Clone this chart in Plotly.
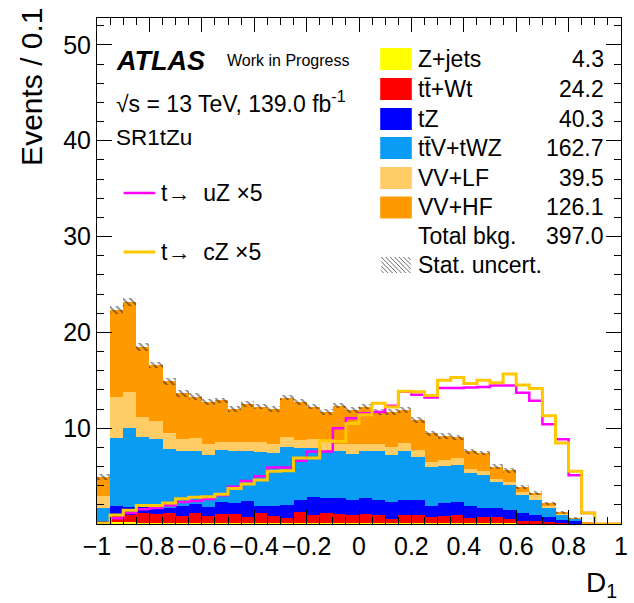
import numpy as np
import plotly.graph_objects as go

# ---------------- data ----------------
bin_edges = np.linspace(-1.0, 1.0, 41)
x_tick_vals = [-1, -0.8, -0.6, -0.4, -0.2, 0, 0.2, 0.4, 0.6, 0.8, 1]
x_tick_text = ["\u22121", "\u22120.8", "\u22120.6", "\u22120.4", "\u22120.2", "0", "0.2", "0.4", "0.6", "0.8", "1"]
y_tick_vals = [10, 20, 30, 40, 50]

zjets = [0.02, 0.25, 0.2, 0.15, 0.12, 0.1, 0.12, 0.15, 0.1, 0.12,
         0.12, 0.1, 0.15, 0.12, 0.1, 0.1, 0.12, 0.1, 0.15, 0.1,
         0.12, 0.1, 0.1, 0.12, 0.1, 0.1, 0.12, 0.1, 0.08, 0.1,
         0.08, 0.06, 0.05, 0.04, 0.03, 0.02, 0.01, 0, 0, 0]
ttbar = [0.08, 0.75, 0.7, 0.95, 0.88, 1.1, 0.75, 1.05, 0.7, 0.88,
         0.92, 0.67, 0.99, 0.68, 0.53, 1.15, 0.86, 1.04, 0.93, 0.88,
         0.92, 0.8, 0.46, 0.85, 0.87, 0.63, 0.73, 0.8, 0.57, 0.6,
         0.62, 0.44, 0.3, 0.26, 0.17, 0.08, 0.04, 0, 0, 0]
tz = [0.2, 0.9, 0.84, 0.7, 0.67, 0.47, 1.03, 0.87, 0.98, 1.3,
      1.16, 1.63, 0.76, 1.1, 1.37, 1.25, 1.79, 1.56, 1.62, 1.52,
      1.66, 1.6, 1.74, 1.53, 1.58, 1.12, 1.3, 1.4, 1.25, 1.0,
      0.95, 1.0, 0.8, 0.67, 0.5, 0.35, 0.25, 0.02, 0, 0]
ttv = [1.37, 7.06, 8.26, 7.26, 7.18, 6.18, 5.77, 5.5, 5.42, 5.4,
       5.37, 5.17, 5.6, 5.5, 6.0, 5.4, 5.13, 4.87, 4.87, 4.8,
       4.94, 5.07, 4.9, 5.14, 4.45, 4.15, 3.9, 3.9, 3.4, 3.4,
       2.75, 2.6, 1.85, 1.53, 1.0, 0.52, 0.25, 0.08, 0, 0]
vvlf = [1.23, 4.34, 3.75, 2.14, 1.91, 1.65, 1.23, 1.39, 1.17, 0.9,
        1.03, 1.03, 1.1, 1.0, 1.1, 0.85, 1.0, 1.18, 0.78, 1.0,
        0.76, 0.78, 0.8, 0.81, 0.75, 0.5, 0.65, 0.7, 0.46, 0.4,
        0.3, 0.3, 0.3, 0.55, 0.27, 0.08, 0, 0, 0, 0]
vvhf = [2.0, 9.0, 9.45, 7.3, 5.84, 5.4, 4.75, 4.34, 4.33, 4.3,
        3.38, 3.9, 3.66, 3.58, 4.1, 3.95, 3.36, 2.95, 4.01, 3.6,
        3.86, 3.35, 3.7, 3.45, 3.12, 2.95, 2.5, 2.15, 1.84, 1.9,
        1.3, 1.2, 0.55, 0.2, 0.18, 0.15, 0.05, 0.02, 0, 0]
stat_unc = [0.3, 0.4, 0.4, 0.4, 0.35, 0.35, 0.35, 0.35, 0.3, 0.3,
            0.3, 0.3, 0.3, 0.3, 0.3, 0.3, 0.3, 0.3, 0.3, 0.3,
            0.3, 0.3, 0.3, 0.3, 0.3, 0.28, 0.28, 0.28, 0.25, 0.25,
            0.25, 0.25, 0.2, 0.2, 0.15, 0.12, 0.08, 0.03, 0, 0]
sig_uz = [0.05, 0.6, 1.15, 1.55, 1.67, 1.94, 2.3, 2.4, 2.6, 3.0,
          3.9, 4.5, 4.97, 5.9, 5.9, 6.6, 7.57, 7.57, 10.0, 11.04,
          11.56, 11.7, 12.35, 13.8, 13.5, 13.2, 14.2, 14.2, 14.25, 14.3,
          14.45, 14.45, 13.7, 12.85, 10.4, 8.85, 5.1, 1.15, 0, 0]
sig_cz = [0.1, 0.95, 1.43, 1.94, 1.94, 2.2, 2.64, 2.8, 2.85, 3.1,
          3.7, 4.17, 4.6, 5.5, 5.55, 6.9, 6.9, 8.7, 8.6, 10.5,
          11.4, 12.6, 12.2, 13.85, 13.8, 13.4, 15.0, 15.3, 14.65, 15.0,
          14.75, 15.65, 14.5, 14.15, 11.3, 8.45, 5.5, 1.15, 0, 0]

bkg_names = ["Z+jets", "t\u0074\u0304+Wt", "tZ", "t\u0074\u0304V+tWZ", "VV+LF", "VV+HF"]
bkg_yields = ["4.3", "24.2", "40.3", "162.7", "39.5", "126.1"]
total_yield = "397.0"
bkg_colors = ["#FFFF00", "#FF0000", "#0000FF", "#0A9BF5", "#FFCC66", "#FF9900"]
sig_names = ["t<b>\u2192</b>  uZ \u00d75", "t<b>\u2192</b>  cZ \u00d75"]
sig_colors = ["#FF00FF", "#FFC800"]

# ---------------- figure ----------------
FONT = "Liberation Sans, Arial, Helvetica, sans-serif"
W, H = 634, 603
ML, MR, MT, MB = 97, 6, 18, 79
PW, PH = W - ML - MR, H - MT - MB
YMAX = 52.8

def px(xp):
    return (xp - ML) / PW

def py(yp):
    return (H - MB - yp) / PH

centers = 0.5 * (bin_edges[:-1] + bin_edges[1:])
widths = np.diff(bin_edges)

fig = go.Figure()
base = np.zeros(len(centers))
comps = [zjets, ttbar, tz, ttv, vvlf, vvhf]
for name, vals, col in zip(bkg_names, comps, bkg_colors):
    v = np.array(vals, dtype=float)
    fig.add_trace(go.Bar(x=centers, y=v, base=base.copy(), width=widths,
                         marker=dict(color=col, line=dict(width=0)),
                         name=name, showlegend=False))
    base = base + v
total = base
unc = np.array(stat_unc)
fig.add_trace(go.Bar(x=centers, y=2 * unc, base=total - unc, width=widths,
                     marker=dict(color="rgba(0,0,0,0)", line=dict(width=0),
                                 pattern=dict(shape="\\", fgcolor="#111111",
                                              bgcolor="rgba(0,0,0,0)", size=5,
                                              solidity=0.35, fillmode="overlay")),
                     showlegend=False))

for vals, col, lw in zip([sig_uz, sig_cz], sig_colors, [2.5, 3]):
    yv = list(vals) + [vals[-1]]
    fig.add_trace(go.Scatter(x=bin_edges, y=yv, mode="lines",
                             line=dict(shape="hv", color=col, width=lw),
                             showlegend=False, cliponaxis=True))

axis_common = dict(showline=True, linecolor="black", linewidth=1, mirror="allticks",
                   ticks="inside", showgrid=False, zeroline=False,
                   ticklabeloverflow="allow",
                   tickfont=dict(family=FONT, size=25, color="black"))
fig.update_xaxes(range=[-1, 1], tickmode="array", tickvals=x_tick_vals, ticktext=x_tick_text,
                 ticklen=14, tickwidth=1, tickcolor="black",
                 minor=dict(tickmode="linear", tick0=-1, dtick=0.05, ticklen=7,
                            ticks="inside", tickcolor="black", tickwidth=1),
                 **axis_common)
fig.update_yaxes(range=[0, YMAX], tickmode="array", tickvals=y_tick_vals,
                 ticklen=15, tickwidth=1, tickcolor="black",
                 minor=dict(tickmode="linear", tick0=0, dtick=2, ticklen=7,
                            ticks="inside", tickcolor="black", tickwidth=1),
                 **axis_common)

ann = []
shapes = []
def text(xp, yp, s, size, xanchor="left", **kw):
    ann.append(dict(x=px(xp), y=py(yp), xref="paper", yref="paper", text=s,
                    showarrow=False, xanchor=xanchor, yanchor="middle",
                    font=dict(family=FONT, size=size, color="black"), **kw))

text(30, 87, "Events / 0.1", 30, xanchor="center", textangle=-90)
text(626, 584, "D<sub>1</sub>", 28, xanchor="right")
text(114, 61, "<b><i>ATLAS</i></b>", 27)
text(227, 61, "Work in Progress", 16)
text(114, 102, "\u221As = 13 TeV, 139.0 fb<sup>-1</sup>", 23)
text(114, 137, "SR1tZu", 22.5)

# signal legend
for i, (nm, col, lw) in enumerate(zip(sig_names, sig_colors, [2.5, 3])):
    yy = 193 + i * 59
    shapes.append(dict(type="line", xref="paper", yref="paper", x0=px(124), x1=px(156),
                       y0=py(yy), y1=py(yy), line=dict(color=col, width=lw)))
    text(160, yy, nm, 23)

# background legend
row_y = [59, 89, 119, 148, 178, 207.5]
for yy, nm, yl, col in zip(row_y, bkg_names, bkg_yields, bkg_colors):
    shapes.append(dict(type="rect", xref="paper", yref="paper", x0=px(384), x1=px(416),
                       y0=py(yy + 11), y1=py(yy - 11), fillcolor=col, line=dict(width=0)))
    text(420, yy, nm, 23)
    text(613, yy, yl, 23, xanchor="right")
text(420, 236.5, "Total bkg.", 23)
text(613, 236.5, total_yield, 23, xanchor="right")
text(420, 265, "Stat. uncert.", 23)
# hatched legend box
bx0, bx1, by0, by1 = 385, 415, 257, 273
hh = by1 - by0
for k in range(-4, 8):
    x0 = bx0 + k * 4.5
    x1 = x0 + hh
    ya, yb = by0, by1
    if x0 < bx0:
        ya = by0 + (bx0 - x0); x0 = bx0
    if x1 > bx1:
        yb = by1 - (x1 - bx1); x1 = bx1
    if x1 <= x0:
        continue
    shapes.append(dict(type="line", xref="paper", yref="paper", x0=px(x0), x1=px(x1),
                       y0=py(ya), y1=py(yb), line=dict(color="#444444", width=0.8)))

fig.update_layout(width=W, height=H, margin=dict(l=ML, r=MR, t=MT, b=MB),
                  paper_bgcolor="white", plot_bgcolor="white", barmode="overlay",
                  bargap=0, annotations=ann, shapes=shapes, showlegend=False)

fig.write_html("out.html")
